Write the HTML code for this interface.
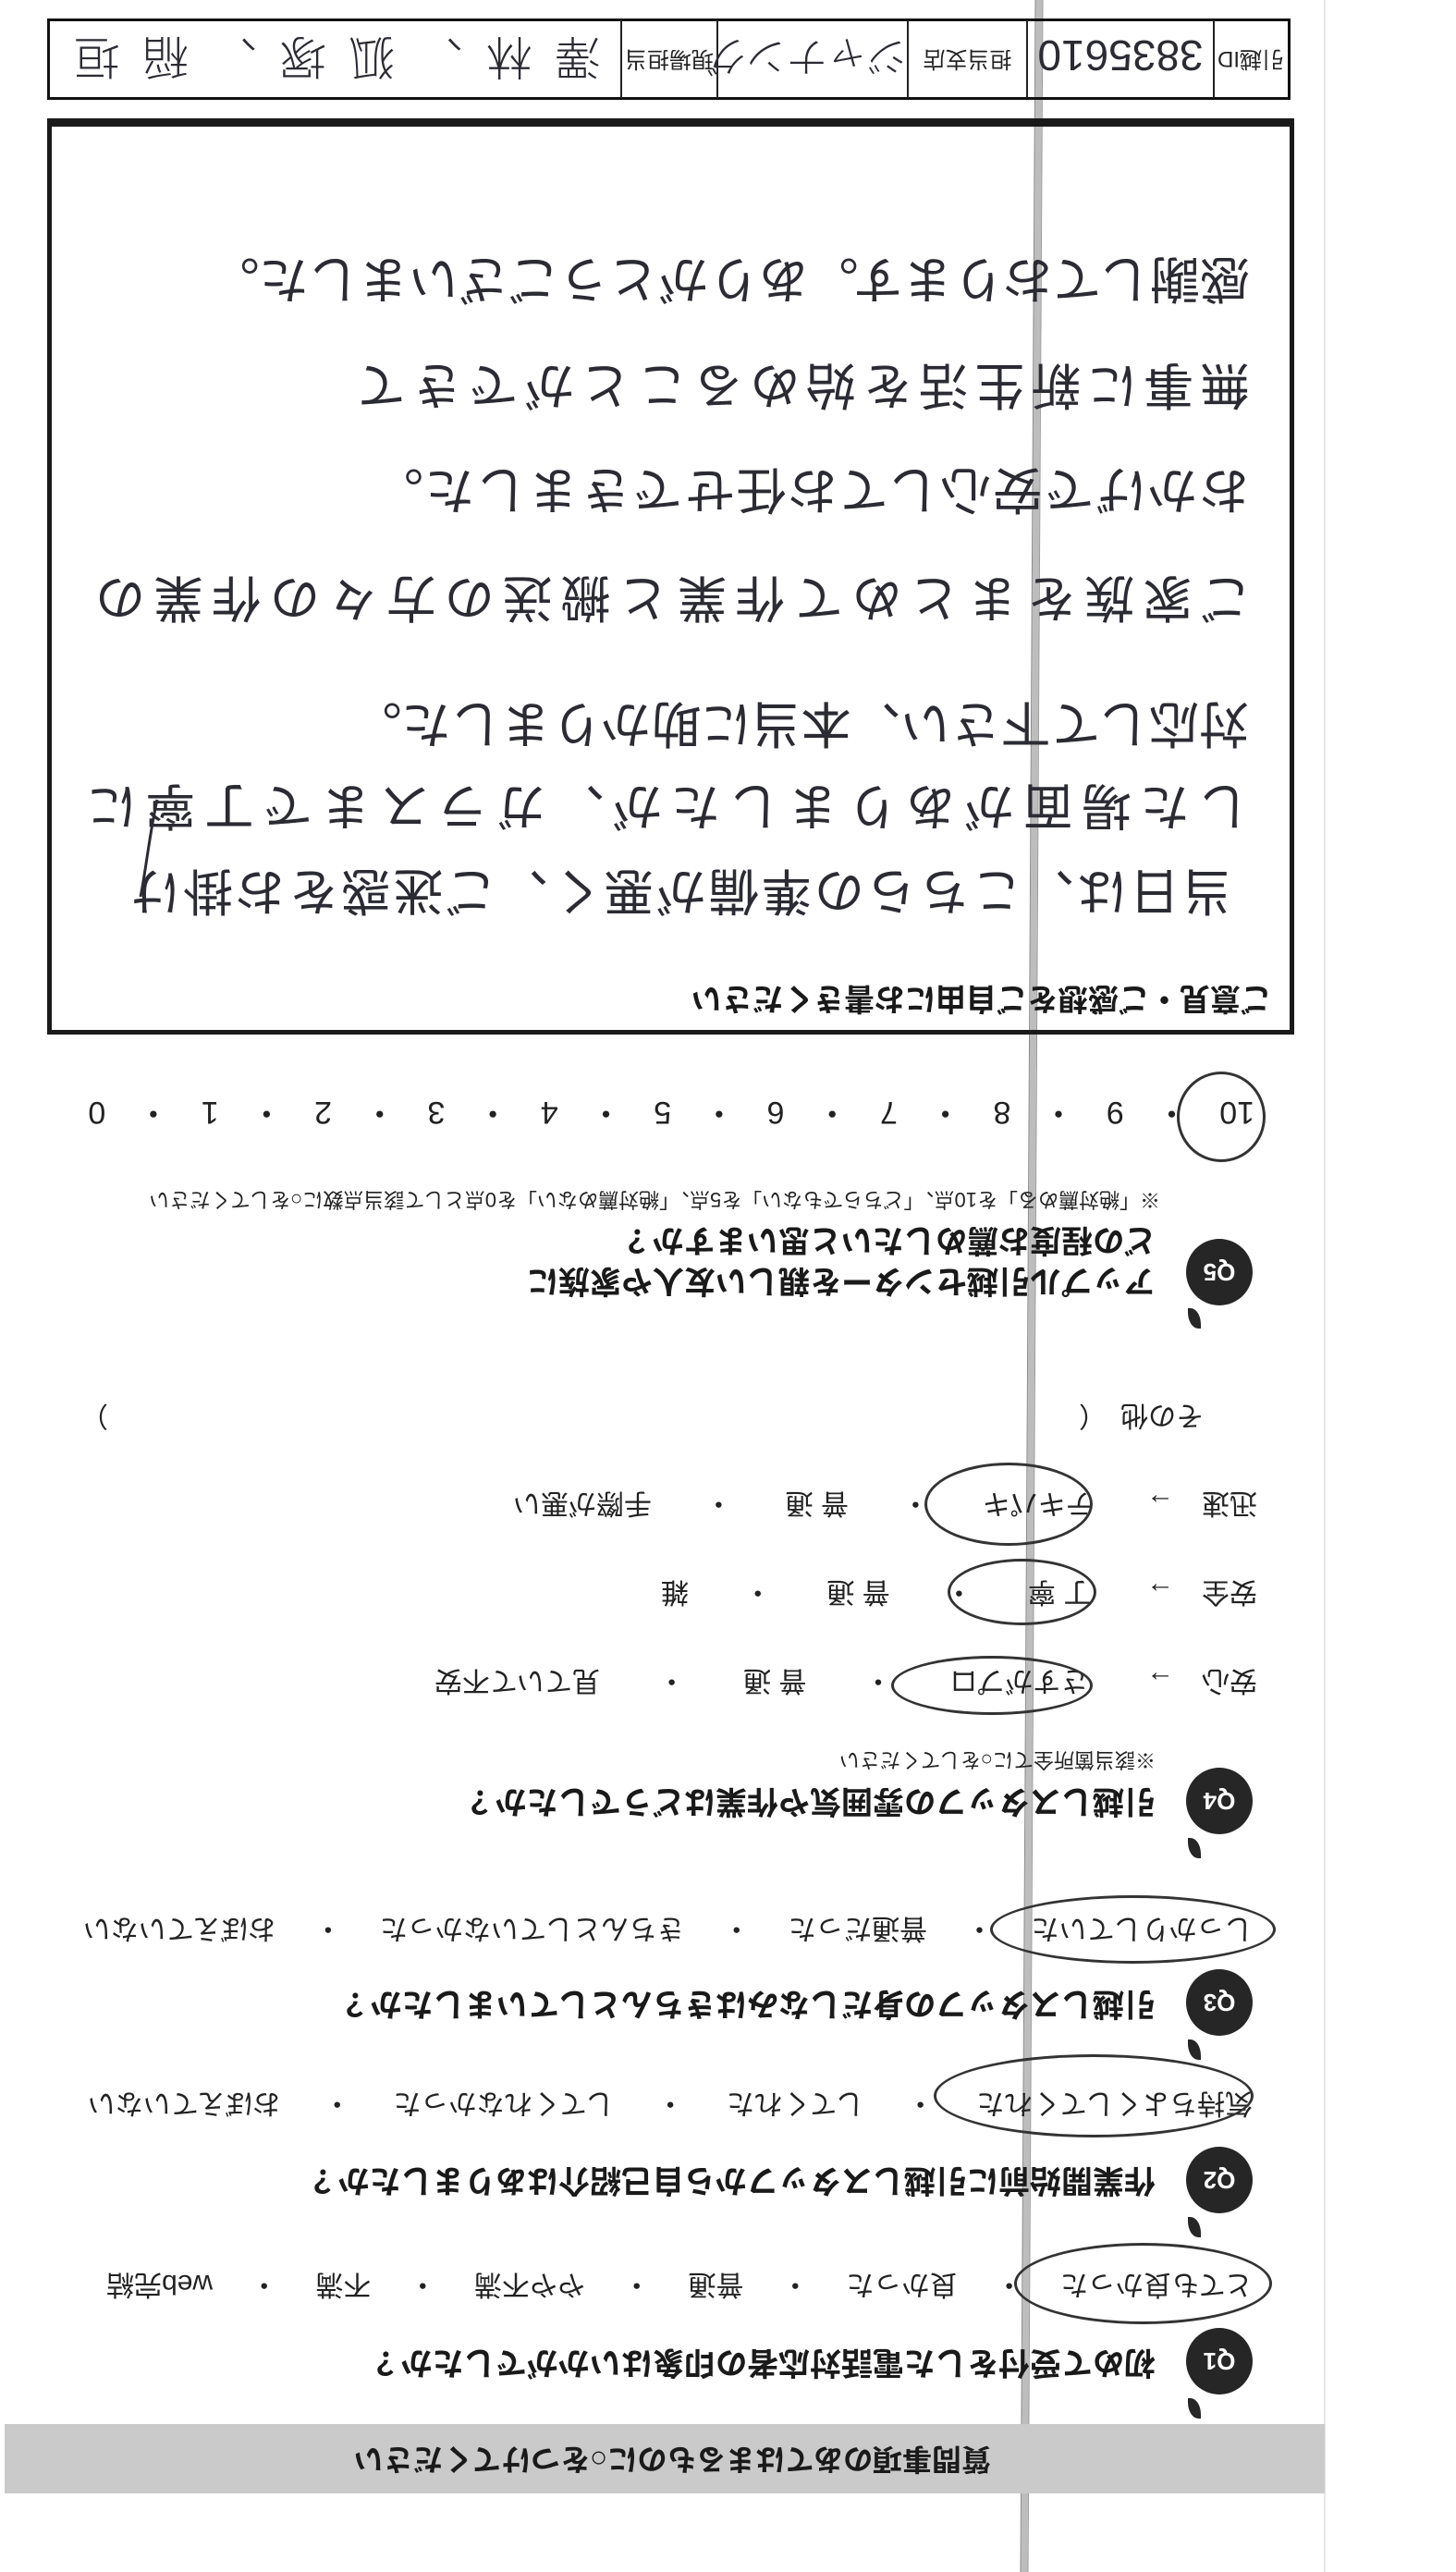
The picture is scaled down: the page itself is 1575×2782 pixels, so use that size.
<!DOCTYPE html>
<html><head><meta charset="utf-8"><style>
html,body{margin:0;padding:0;background:#fff}
body{width:1575px;height:2782px;position:relative;overflow:hidden;font-family:"Liberation Sans","Noto Sans CJK JP",sans-serif;color:#222}
.a{position:absolute}
.r{position:absolute;transform:rotate(180deg);white-space:nowrap}
.hw{font-family:"Liberation Sans","Noto Sans CJK JP",sans-serif;font-weight:400;color:#2b2b33;font-size:54px;line-height:64px;height:64px;text-align:justify;text-align-last:justify}
.q{font-weight:700;font-size:34px;line-height:44px;height:44px;color:#1a1a1a}
.opt{font-size:30px;line-height:40px;height:40px;display:flex;justify-content:space-between;color:#222}
.icon{position:absolute;width:72px;height:72px;border-radius:50%;background:#262626;color:#fff;font-weight:700;font-size:26px;line-height:72px;text-align:center}
.icon span{display:block;transform:rotate(180deg)}
.leaf{position:absolute;width:14px;height:22px;background:#262626;border-radius:0 80% 0 80%}
.circ{position:absolute;border:3px solid #333;border-radius:50%}
</style></head><body>

<svg class="a" style="left:0;top:0" width="1575" height="2782">
<line x1="1124" y1="0" x2="1108" y2="2782" stroke="#bdbdbd" stroke-width="7"/>
<line x1="1120" y1="0" x2="1104" y2="2782" stroke="#8a8a8a" stroke-width="1"/>
<line x1="1128" y1="0" x2="1112" y2="2782" stroke="#9a9a9a" stroke-width="1"/>
<line x1="1433" y1="0" x2="1433" y2="2782" stroke="#e6e6e6" stroke-width="2"/>
</svg>

<!-- header table -->
<div class="a" style="left:51px;top:20px;width:1339px;height:82px;border:3px solid #111"></div>
<div class="a" style="left:671px;top:22px;width:2px;height:84px;background:#222"></div>
<div class="a" style="left:775px;top:22px;width:2px;height:84px;background:#222"></div>
<div class="a" style="left:981px;top:22px;width:2px;height:84px;background:#222"></div>
<div class="a" style="left:1110px;top:22px;width:2px;height:84px;background:#222"></div>
<div class="a" style="left:1312px;top:22px;width:2px;height:84px;background:#222"></div>
<div class="r" style="left:1314px;top:45px;width:78px;height:36px;font-size:24px;line-height:36px;text-align:center">引越ID</div>
<div class="r" style="left:1112px;top:30px;width:200px;height:60px;font-size:46px;line-height:60px;text-align:center;font-weight:300;color:#2b2b33">3835610</div>
<div class="r" style="left:983px;top:45px;width:127px;height:36px;font-size:24px;line-height:36px;text-align:center">担当支店</div>
<div class="r" style="left:777px;top:30px;width:204px;height:60px;font-size:44px;line-height:60px;text-align:center;font-weight:300;color:#2b2b33">ジャナング</div>
<div class="r" style="left:673px;top:45px;width:102px;height:36px;font-size:24px;line-height:36px;text-align:center">現場担当</div>
<div class="r" style="left:80px;top:28px;width:570px;height:66px;font-size:50px;line-height:66px;text-align:justify;text-align-last:justify;font-weight:300;color:#2b2b33">澤林、狐塚、稲垣</div>

<!-- comment box -->
<div class="a" style="left:51px;top:128px;width:1339px;height:977px;border:5px solid #1a1a1a;border-top-width:9px"></div>
<div class="r q" style="left:695px;top:1058px;width:680px;font-size:33px">ご意見・ご感想をご自由にお書きください</div>

<div class="r hw" style="left:282px;top:269px;width:1070px">感謝しております。ありがとうございました。</div>
<div class="r hw" style="left:385px;top:384px;width:967px">無事に新生活を始めることができて</div>
<div class="r hw" style="left:404px;top:497px;width:948px">おかげで安心してお任せできました。</div>
<div class="r hw" style="left:103px;top:614px;width:1250px">ご家族をまとめて作業と搬送の方々の作業の</div>
<div class="r hw" style="left:441px;top:750px;width:910px">対応して下さい、本当に助かりました。</div>
<div class="r hw" style="left:94px;top:839px;width:1257px">した場面がありましたが、ガラスまで丁寧に</div>
<div class="r hw" style="left:141px;top:931px;width:1192px">当日は、こちらの準備が悪く、ご迷惑をお掛け</div>
<svg class="a" style="left:140px;top:860px" width="40" height="120"><path d="M30 5 C22 40 18 80 12 110" stroke="#2b2b33" stroke-width="3" fill="none"/></svg>

<!-- Q5 -->
<div class="r opt" style="left:95px;top:1183px;width:1262px;font-size:34px"><span>10</span><span>・</span><span>9</span><span>・</span><span>8</span><span>・</span><span>7</span><span>・</span><span>6</span><span>・</span><span>5</span><span>・</span><span>4</span><span>・</span><span>3</span><span>・</span><span>2</span><span>・</span><span>1</span><span>・</span><span>0</span></div>
<div class="circ" style="left:1273px;top:1159px;width:90px;height:92px"></div>
<div class="r" style="left:75px;top:1284px;width:1180px;font-size:22px;line-height:26px;height:26px">※「絶対薦める」を10点、「どちらでもない」を5点、「絶対薦めない」を0点として該当点数に○をしてください</div>
<div class="r q" style="left:645px;top:1319px;width:605px">どの程度お薦めしたいと思いますか？</div>
<div class="r q" style="left:545px;top:1363px;width:705px">アップル引越センターを親しい友人や家族に</div>
<div class="icon" style="left:1283px;top:1340px"><span>Q5</span></div>
<div class="leaf" style="left:1285px;top:1415px"></div>

<!-- Q4 -->
<div class="r" style="left:80px;top:1510px;width:1222px;font-size:30px;line-height:40px;height:40px">その他　（　　　　　　　　　　　　　　　　　　　　　　　　　　　　　　　　　　　）</div>
<div class="r opt" style="left:555px;top:1605px;width:805px"><span>迅速　→</span><span>テキパキ</span><span>・</span><span>普 通</span><span>・</span><span>手際が悪い</span></div>
<div class="circ" style="left:1000px;top:1582px;width:176px;height:84px"></div>
<div class="r opt" style="left:715px;top:1701px;width:645px"><span>安全　→</span><span>丁 寧</span><span>・</span><span>普 通</span><span>・</span><span>雑</span></div>
<div class="circ" style="left:1025px;top:1686px;width:155px;height:66px"></div>
<div class="r opt" style="left:470px;top:1797px;width:890px"><span>安心　→</span><span>さすがプロ</span><span>・</span><span>普 通</span><span>・</span><span>見ていて不安</span></div>
<div class="circ" style="left:964px;top:1791px;width:212px;height:58px"></div>
<div class="r" style="left:820px;top:1890px;width:430px;font-size:22px;line-height:26px;height:26px">※該当箇所全てに○をしてください</div>
<div class="r q" style="left:470px;top:1926px;width:780px">引越しスタッフの雰囲気や作業はどうでしたか？</div>
<div class="icon" style="left:1283px;top:1912px"><span>Q4</span></div>
<div class="leaf" style="left:1285px;top:1988px"></div>

<!-- Q3 -->
<div class="r opt" style="left:90px;top:2065px;width:1265px"><span>しっかりしていた</span><span>・</span><span>普通だった</span><span>・</span><span>きちんとしていなかった</span><span>・</span><span>おぼえていない</span></div>
<div class="circ" style="left:1071px;top:2050px;width:303px;height:68px"></div>
<div class="r q" style="left:340px;top:2145px;width:910px">引越しスタッフの身だしなみはきちんとしていましたか？</div>
<div class="icon" style="left:1283px;top:2130px"><span>Q3</span></div>
<div class="leaf" style="left:1285px;top:2206px"></div>

<!-- Q2 -->
<div class="r opt" style="left:95px;top:2254px;width:1260px"><span>気持ちよくしてくれた</span><span>・</span><span>してくれた</span><span>・</span><span>してくれなかった</span><span>・</span><span>おぼえていない</span></div>
<div class="circ" style="left:1010px;top:2222px;width:340px;height:84px"></div>
<div class="r q" style="left:305px;top:2336px;width:945px">作業開始前に引越しスタッフから自己紹介はありましたか？</div>
<div class="icon" style="left:1283px;top:2322px"><span>Q2</span></div>
<div class="leaf" style="left:1285px;top:2398px"></div>

<!-- Q1 -->
<div class="r opt" style="left:115px;top:2450px;width:1240px"><span>とても良かった</span><span>・</span><span>良かった</span><span>・</span><span>普通</span><span>・</span><span>やや不満</span><span>・</span><span>不満</span><span>・</span><span>web完結</span></div>
<div class="circ" style="left:1097px;top:2426px;width:273px;height:82px"></div>
<div class="r q" style="left:375px;top:2533px;width:875px">初めて受付をした電話対応者の印象はいかがでしたか？</div>
<div class="icon" style="left:1283px;top:2518px"><span>Q1</span></div>
<div class="leaf" style="left:1285px;top:2594px"></div>

<!-- gray band -->
<div class="a" style="left:5px;top:2622px;width:1428px;height:75px;background:#cacaca"></div>
<div class="r q" style="left:332px;top:2638px;width:740px;font-size:32px">質問事項のあてはまるものに○をつけてください</div>

</body></html>
